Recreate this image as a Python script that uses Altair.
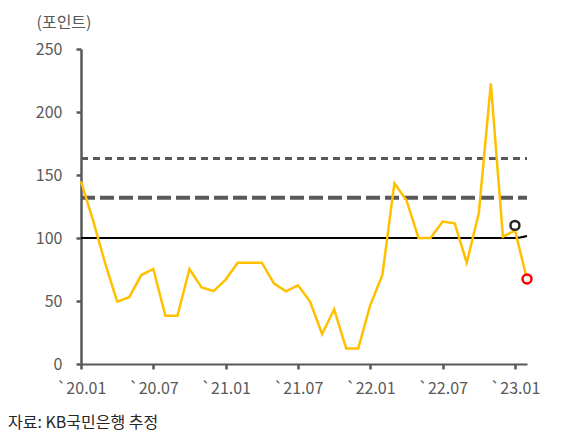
import altair as alt
import pandas as pd

# monthly index: 0 = '20.01 ... 37 = '23.02
values = [145, 114, 80, 49.5, 53, 70.6, 75.4, 38.3, 38.3, 75.4, 60.8, 57.9,
          67, 80.4, 80.4, 80.4, 64, 57.7, 62.4, 49.5, 23.8, 43.4, 12.4, 12.4,
          46.8, 70.6, 143.4, 130, 100, 100, 113, 111.6, 80.4, 119.6, 222.7, 101,
          106, 67.5]
baseline = [100] * 37 + [101.6]
months = list(range(len(values)))

tick_positions = [0, 6, 12, 18, 24, 30, 36]
tick_labels = ["`20.01", "`20.07", "`21.01", "`21.07", "`22.01", "`22.07", "`23.01"]

upper_level = 163   # dotted
mid_level = 132     # thick dashed

black_point = {"x": 36, "v": 110}
red_point = {"x": 37, "v": 67.5}

FONT = "Noto Sans CJK KR"
GREY = "#595959"

df = pd.DataFrame({"m": months, "v": values, "b": baseline})
levels = pd.DataFrame({"x": [0, 0], "x2": [37, 37], "y": [upper_level, mid_level],
                       "kind": ["dot", "dash"]})
pts = pd.DataFrame({"x": [black_point["x"], red_point["x"]],
                    "v": [black_point["v"], red_point["v"]],
                    "c": ["black", "red"]})

label_expr = "{" + ",".join(f"'{p}':'{l}'" for p, l in zip(tick_positions, tick_labels)) + "}[datum.value]"

xscale = alt.Scale(domain=[0, 37], nice=False, zero=False)
yscale = alt.Scale(domain=[0, 250], nice=False)

xaxis = alt.Axis(values=tick_positions, labelExpr=label_expr, grid=False,
                 domainColor=GREY, domainWidth=2, tickColor=GREY, tickWidth=2.5,
                 tickSize=5, labelFont=FONT, labelFontSize=16, labelColor=GREY,
                 labelPadding=11, labelOverlap=False, labelFlush=False, title=None)
yaxis = alt.Axis(values=[0, 50, 100, 150, 200, 250], grid=False,
                 domainColor=GREY, domainWidth=2.5, tickColor=GREY, tickWidth=2.5,
                 tickSize=5, labelFont=FONT, labelFontSize=16, labelColor=GREY,
                 labelPadding=14, labelOverlap=False, title="(포인트)", titleAngle=0, titleX=-45,
                 titleY=-27, titleAlign="left", titleBaseline="middle",
                 titleFont=FONT, titleFontSize=16, titleFontWeight="normal",
                 titleColor=GREY)

base = alt.Chart(df)

dot_rule = alt.Chart(levels).transform_filter(alt.datum.kind == "dot").mark_rule(
    color=GREY, strokeWidth=3, strokeDash=[7, 5]).encode(
    x=alt.X("x:Q", scale=xscale, axis=xaxis), x2="x2:Q",
    y=alt.Y("y:Q", scale=yscale, axis=yaxis))
dash_rule = alt.Chart(levels).transform_filter(alt.datum.kind == "dash").mark_rule(
    color=GREY, strokeWidth=4, strokeDash=[14, 5]).encode(
    x=alt.X("x:Q", scale=xscale), x2="x2:Q", y=alt.Y("y:Q", scale=yscale))

bline = base.mark_line(color="#000000", strokeWidth=2, interpolate="monotone").encode(
    x=alt.X("m:Q", scale=xscale), y=alt.Y("b:Q", scale=yscale))

yline = base.mark_line(color="#FFC000", strokeWidth=2.5).encode(
    x=alt.X("m:Q", scale=xscale), y=alt.Y("v:Q", scale=yscale))

points = alt.Chart(pts).mark_point(size=80, strokeWidth=2.5, fill="white",
                                   filled=True, opacity=1).encode(
    x=alt.X("x:Q", scale=xscale), y=alt.Y("v:Q", scale=yscale),
    stroke=alt.Stroke("c:N", scale=alt.Scale(domain=["black", "red"],
                                             range=["#262626", "#FF0000"]), legend=None))

source = alt.Chart(pd.DataFrame({"t": ["자료: KB국민은행 추정"]})).mark_text(
    align="left", baseline="middle", font=FONT, fontSize=16, color="#262626").encode(
    x=alt.value(-73), y=alt.value(374), text="t:N")

chart = alt.layer(dot_rule, dash_rule, bline, yline, points, source).properties(
    width=446, height=315,
    padding={"left": 73, "top": 41, "right": 20, "bottom": 72},
    autosize=alt.AutoSizeParams(type="none"),
).configure_view(stroke=None)

chart.save("out.html", embed_options={"renderer": "svg", "actions": False})
